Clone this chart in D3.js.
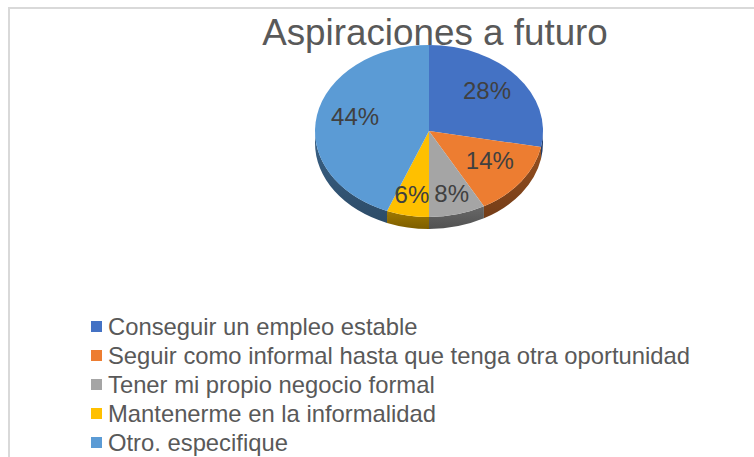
<!DOCTYPE html>
<meta charset="utf-8">
<style>
  body { margin: 0; background: #fff; }
  text { font-family: "Liberation Sans", Arial, sans-serif; }
</style>
<div id="chart"></div>
<script src="https://d3js.org/d3.v7.min.js"></script>
<script>

var categories = ["Conseguir un empleo estable",
                  "Seguir como informal hasta que tenga otra oportunidad",
                  "Tener mi propio negocio formal",
                  "Mantenerme en la informalidad",
                  "Otro. especifique"]
var values = [28, 14, 8, 6, 44]
var colors = ["#4472C4", "#ED7D31", "#A5A5A5", "#FFC000", "#5B9BD5"]
var title = "Aspiraciones a futuro"

var width = 754,
    height = 457

// pie geometry (tilted ellipse)
var cx = 429, cy = 131, rx = 114, ry = 86, depth = 12

var svg = d3.select("#chart")
  .append("svg")
    .attr("width", width)
    .attr("height", height)

// chart border
svg.append("rect")
  .attr("x", 9).attr("y", 8)
  .attr("width", width + 10).attr("height", height + 10)
  .attr("fill", "none")
  .attr("stroke", "#d9d9d9")
  .attr("stroke-width", 2)

svg.append("text")
  .attr("x", 435).attr("y", 45)
  .attr("text-anchor", "middle")
  .attr("font-size", 36.8)
  .attr("fill", "#595959")
  .text(title)

var pie = d3.pie().sort(null).value(function(d) { return d })
var arcs = pie(values)

function pt(a, dy) {
  return [cx + rx * Math.sin(a), cy - ry * Math.cos(a) + (dy || 0)]
}

function topPath(d) {
  var p0 = pt(d.startAngle), p1 = pt(d.endAngle)
  var large = (d.endAngle - d.startAngle) > Math.PI ? 1 : 0
  return "M" + cx + "," + cy + "L" + p0 + "A" + rx + "," + ry + " 0 " + large + " 1 " + p1 + "Z"
}

function sidePath(d) {
  var a0 = Math.max(d.startAngle, Math.PI / 2),
      a1 = Math.min(d.endAngle, Math.PI * 1.5)
  if (a1 <= a0) return null
  var p0 = pt(a0), p1 = pt(a1), q1 = pt(a1, depth), q0 = pt(a0, depth)
  return "M" + p0 + "A" + rx + "," + ry + " 0 0 1 " + p1 +
         "L" + q1 + "A" + rx + "," + ry + " 0 0 0 " + q0 + "Z"
}

var shade = svg.append("defs")
arcs.forEach(function(d, i) {
  var g = shade.append("linearGradient")
    .attr("id", "side" + i)
    .attr("x1", 0).attr("y1", 0).attr("x2", 0).attr("y2", 1)
  g.append("stop").attr("offset", "0%").attr("stop-color", d3.color(colors[i]).darker(1.3))
  g.append("stop").attr("offset", "100%").attr("stop-color", d3.color(colors[i]).darker(2))
})

svg.selectAll("path.side")
  .data(arcs.filter(function(d) { return sidePath(d) }))
  .enter()
  .append("path")
    .attr("class", "side")
    .attr("d", sidePath)
    .attr("fill", function(d) { return "url(#side" + d.index + ")" })

svg.selectAll("path.top")
  .data(arcs)
  .enter()
  .append("path")
    .attr("class", "top")
    .attr("d", topPath)
    .attr("fill", function(d, i) { return colors[i] })

svg.selectAll("text.lbl")
  .data(arcs)
  .enter()
  .append("text")
    .attr("class", "lbl")
    .attr("transform", function(d) {
      var f = d.value < 10 ? 0.8 : 0.66
      var a = (d.startAngle + d.endAngle) / 2
      return "translate(" + (cx + rx * f * Math.sin(a)) + "," + (cy - 4 - ry * f * Math.cos(a)) + ")"
    })
    .attr("text-anchor", "middle")
    .attr("dy", "0.36em")
    .attr("font-size", 24)
    .attr("fill", "#404040")
    .text(function(d) { return d.value + "%" })

// legend
var y = d3.scaleBand().domain(categories).range([312, 457])

var leg = svg.selectAll("g.leg")
  .data(categories)
  .enter()
  .append("g")
    .attr("class", "leg")
    .attr("transform", function(d) { return "translate(91," + (y(d) + y.bandwidth() / 2) + ")" })

leg.append("rect")
  .attr("x", 0).attr("y", -5.5)
  .attr("width", 11).attr("height", 11)
  .attr("fill", function(d, i) { return colors[i] })

leg.append("text")
  .attr("x", 17)
  .attr("dy", "0.36em")
  .attr("font-size", 23.8)
  .attr("fill", "#595959")
  .text(function(d) { return d })

</script>
